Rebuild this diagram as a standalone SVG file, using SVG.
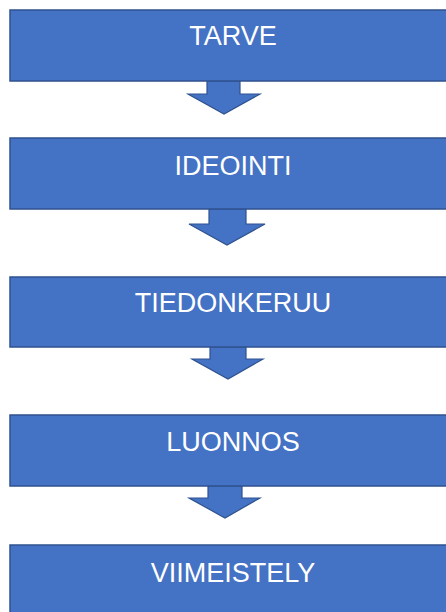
<svg xmlns="http://www.w3.org/2000/svg" width="446" height="612" viewBox="0 0 446 612">
<style>
.box{fill:#4472C4;stroke:#2F528F;stroke-width:1.5}
.arr{fill:#4472C4;stroke:#2F528F;stroke-width:1.2;stroke-linejoin:miter}
.lbl{font-family:"Liberation Sans",Arial,sans-serif;font-size:27px;fill:#FFFFFF;text-anchor:middle}
</style>
<rect width="446" height="612" fill="#FFFFFF"/>
<g id="connectors">
<path class="arr" d="M207,81 L240,81 L240,94 L260,94 L224,114 L188,94 L207,94 Z"/>
<path class="arr" d="M209,209 L246,209 L246,224 L265,224 L227,245 L189,224 L209,224 Z"/>
<path class="arr" d="M210,347 L246,347 L246,359 L263,359 L228,379 L192,359 L210,359 Z"/>
<path class="arr" d="M208,486 L242,486 L242,498 L260,498 L225,518 L189,498 L208,498 Z"/>
</g>
<g id="tarve"><rect class="box" x="10" y="10" width="450" height="71"/><text class="lbl" x="233" y="45">TARVE</text></g>
<g id="ideointi"><rect class="box" x="10" y="138" width="450" height="71"/><text class="lbl" x="233" y="175">IDEOINTI</text></g>
<g id="tiedonkeruu"><rect class="box" x="10" y="277" width="450" height="70"/><text class="lbl" x="233" y="312">TIEDONKERUU</text></g>
<g id="luonnos"><rect class="box" x="10" y="415" width="450" height="71"/><text class="lbl" x="233" y="451">LUONNOS</text></g>
<g id="viimeistely"><rect class="box" x="10" y="545" width="450" height="75"/><text class="lbl" x="233" y="582">VIIMEISTELY</text></g>
</svg>
